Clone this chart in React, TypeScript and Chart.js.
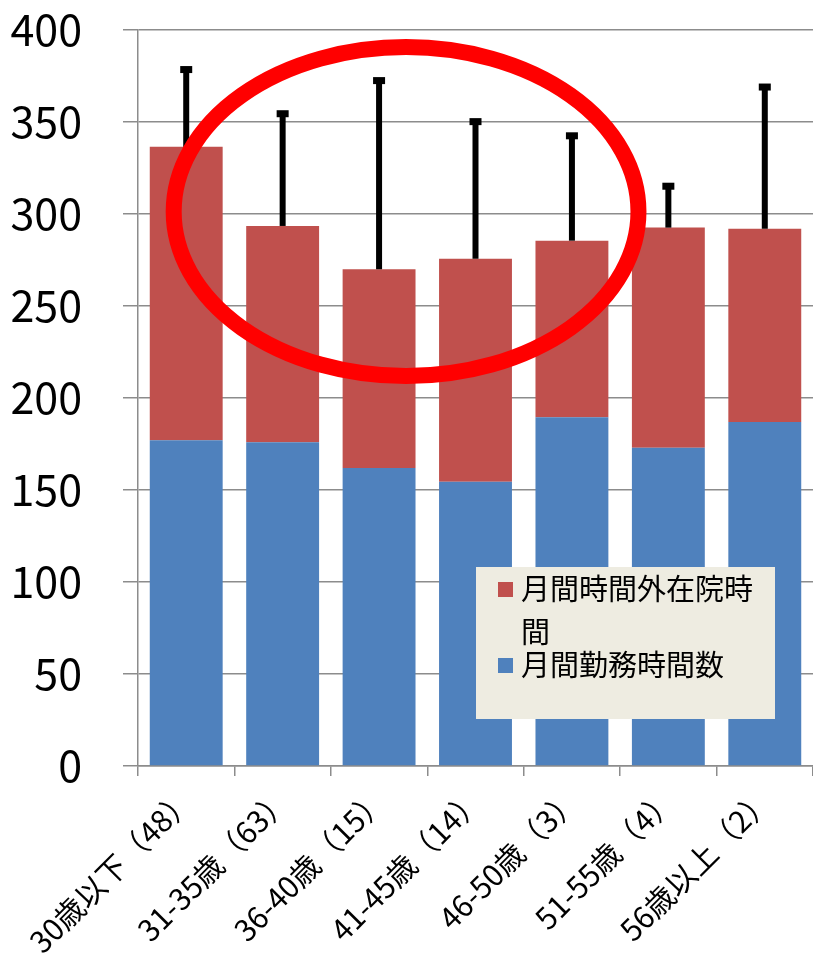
import React, { useEffect, useRef } from "react";
import { Chart, registerables } from "chart.js";

Chart.register(...registerables);

// ---- data ----
const categories = [
  "30歳以下（48）",
  "31-35歳（63）",
  "36-40歳（15）",
  "41-45歳（14）",
  "46-50歳（3）",
  "51-55歳（4）",
  "56歳以上（2）",
];
const workHours = [177, 176, 162, 154.5, 189.5, 173, 187];
const overtimeHours = [159.5, 117.5, 108, 121.2, 96, 119.6, 105];
const overtimeErrorPlus = [42, 61, 102.5, 74.5, 57, 22.5, 77];
const workLabel = "月間勤務時間数";
const overtimeLabel = "月間時間外在院時間";
const yMin = 0;
const yMax = 400;
const yStep = 50;
// highlight ellipse, in data units (category index / value)
const highlightCenterIndex = 2.28;
const highlightCenterValue = 301.3;
const highlightRadiusCategories = 2.41;
const highlightRadiusValue = 89.4;

const FONT = "'Noto Sans CJK JP', 'Noto Sans', sans-serif";
const BLUE = "#4F81BD";
const RED = "#C0504D";
const GRID = "#8c8c8c";

const errorBarPlugin = {
  id: "errorBars",
  afterDatasetsDraw(chart: any) {
    const meta = chart.getDatasetMeta(1);
    const y = chart.scales.y;
    const ctx = chart.ctx;
    ctx.save();
    meta.data.forEach((el: any, i: number) => {
      const top = workHours[i] + overtimeHours[i] + overtimeErrorPlus[i];
      const yTop = y.getPixelForValue(top);
      ctx.strokeStyle = "#000";
      ctx.lineWidth = 6;
      ctx.beginPath();
      ctx.moveTo(el.x, el.y);
      ctx.lineTo(el.x, yTop);
      ctx.stroke();
      ctx.fillStyle = "#000";
      ctx.fillRect(el.x - 6, yTop - 3.5, 12, 7);
    });
    ctx.restore();
  },
};

const highlightPlugin = {
  id: "highlight",
  afterDatasetsDraw(chart: any) {
    const x = chart.scales.x;
    const y = chart.scales.y;
    const ctx = chart.ctx;
    const cx = x.getPixelForValue(highlightCenterIndex);
    const cy = y.getPixelForValue(highlightCenterValue);
    const rx = Math.abs(
      x.getPixelForValue(highlightCenterIndex + highlightRadiusCategories) - cx
    );
    const ry = Math.abs(
      y.getPixelForValue(highlightCenterValue + highlightRadiusValue) - cy
    );
    ctx.save();
    ctx.strokeStyle = "#FF0000";
    ctx.lineWidth = 16;
    ctx.beginPath();
    ctx.ellipse(cx, cy, rx, ry, 0, 0, Math.PI * 2);
    ctx.stroke();
    ctx.restore();
  },
};

function wrap(ctx: CanvasRenderingContext2D, text: string, maxW: number) {
  const lines: string[] = [];
  let cur = "";
  for (const ch of Array.from(text)) {
    if (ctx.measureText(cur + ch).width > maxW && cur) {
      lines.push(cur);
      cur = ch;
    } else cur += ch;
  }
  if (cur) lines.push(cur);
  return lines;
}

const legendPlugin = {
  id: "customLegend",
  afterDraw(chart: any) {
    const ctx = chart.ctx;
    const boxL = 476, boxT = 567, boxW = 299, boxH = 152;
    ctx.save();
    ctx.fillStyle = "#EEECE1";
    ctx.fillRect(boxL, boxT, boxW, boxH);
    ctx.font = `29px ${FONT}`;
    ctx.textBaseline = "middle";
    ctx.textAlign = "left";
    const items = [
      { label: chart.data.datasets[1].label, color: RED },
      { label: chart.data.datasets[0].label, color: BLUE },
    ];
    let yc = 589;
    items.forEach((it) => {
      ctx.fillStyle = it.color;
      ctx.fillRect(498, yc - 7, 15, 15);
      ctx.fillStyle = "#000";
      const lines = wrap(ctx, it.label, 248);
      lines.forEach((ln, k) => {
        ctx.fillText(ln, 521, yc + k * 43);
      });
      yc += (lines.length - 1) * 43 + 33;
    });
    ctx.restore();
  },
};

export default function App() {
  const ref = useRef<HTMLCanvasElement>(null);
  useEffect(() => {
    if (!ref.current) return;
    const chart = new Chart(ref.current, {
      type: "bar",
      data: {
        labels: categories,
        datasets: [
          {
            label: workLabel,
            data: workHours,
            backgroundColor: BLUE,
            categoryPercentage: 1,
            barPercentage: 0.756,
          },
          {
            label: overtimeLabel,
            data: overtimeHours,
            backgroundColor: RED,
            categoryPercentage: 1,
            barPercentage: 0.756,
          },
        ],
      },
      options: {
        responsive: false,
        animation: false,
        layout: { padding: { top: 30, left: 0, right: 0, bottom: 0 } },
        plugins: {
          legend: { display: false },
          tooltip: { enabled: false },
        },
        scales: {
          x: {
            stacked: true,
            grid: {
              offset: true,
              drawOnChartArea: false,
              tickLength: 10,
              color: GRID,
              lineWidth: 1.5,
            },
            border: { color: GRID, width: 1.5 },
            ticks: {
              autoSkip: false,
              maxRotation: 45,
              minRotation: 45,
              color: "#000",
              font: { size: 30, family: FONT },
              padding: 5,
              labelOffset: 2,
            },
            afterFit: (s: any) => {
              s.height = 187;
              s.paddingTop = 0;
              s.paddingBottom = 0;
              s.paddingLeft = 0;
              s.paddingRight = 0;
            },
          },
          y: {
            stacked: true,
            min: yMin,
            max: yMax,
            grid: { color: GRID, lineWidth: 1.5, tickLength: 15 },
            border: { color: GRID, width: 1.5 },
            ticks: {
              stepSize: yStep,
              color: "#000",
              font: { size: 43, family: FONT },
              padding: 41,
            },
            afterFit: (s: any) => {
              s.width = 138;
              s.paddingTop = 0;
              s.paddingBottom = 0;
              s.paddingLeft = 0;
              s.paddingRight = 0;
            },
          },
        },
      },
      plugins: [errorBarPlugin, highlightPlugin, legendPlugin],
    });
    return () => chart.destroy();
  }, []);
  return (
    <div style={{ position: "absolute", left: 0, top: 0, width: 813, height: 953, background: "#fff" }}>
      <canvas ref={ref} width={813} height={953} />
    </div>
  );
}
